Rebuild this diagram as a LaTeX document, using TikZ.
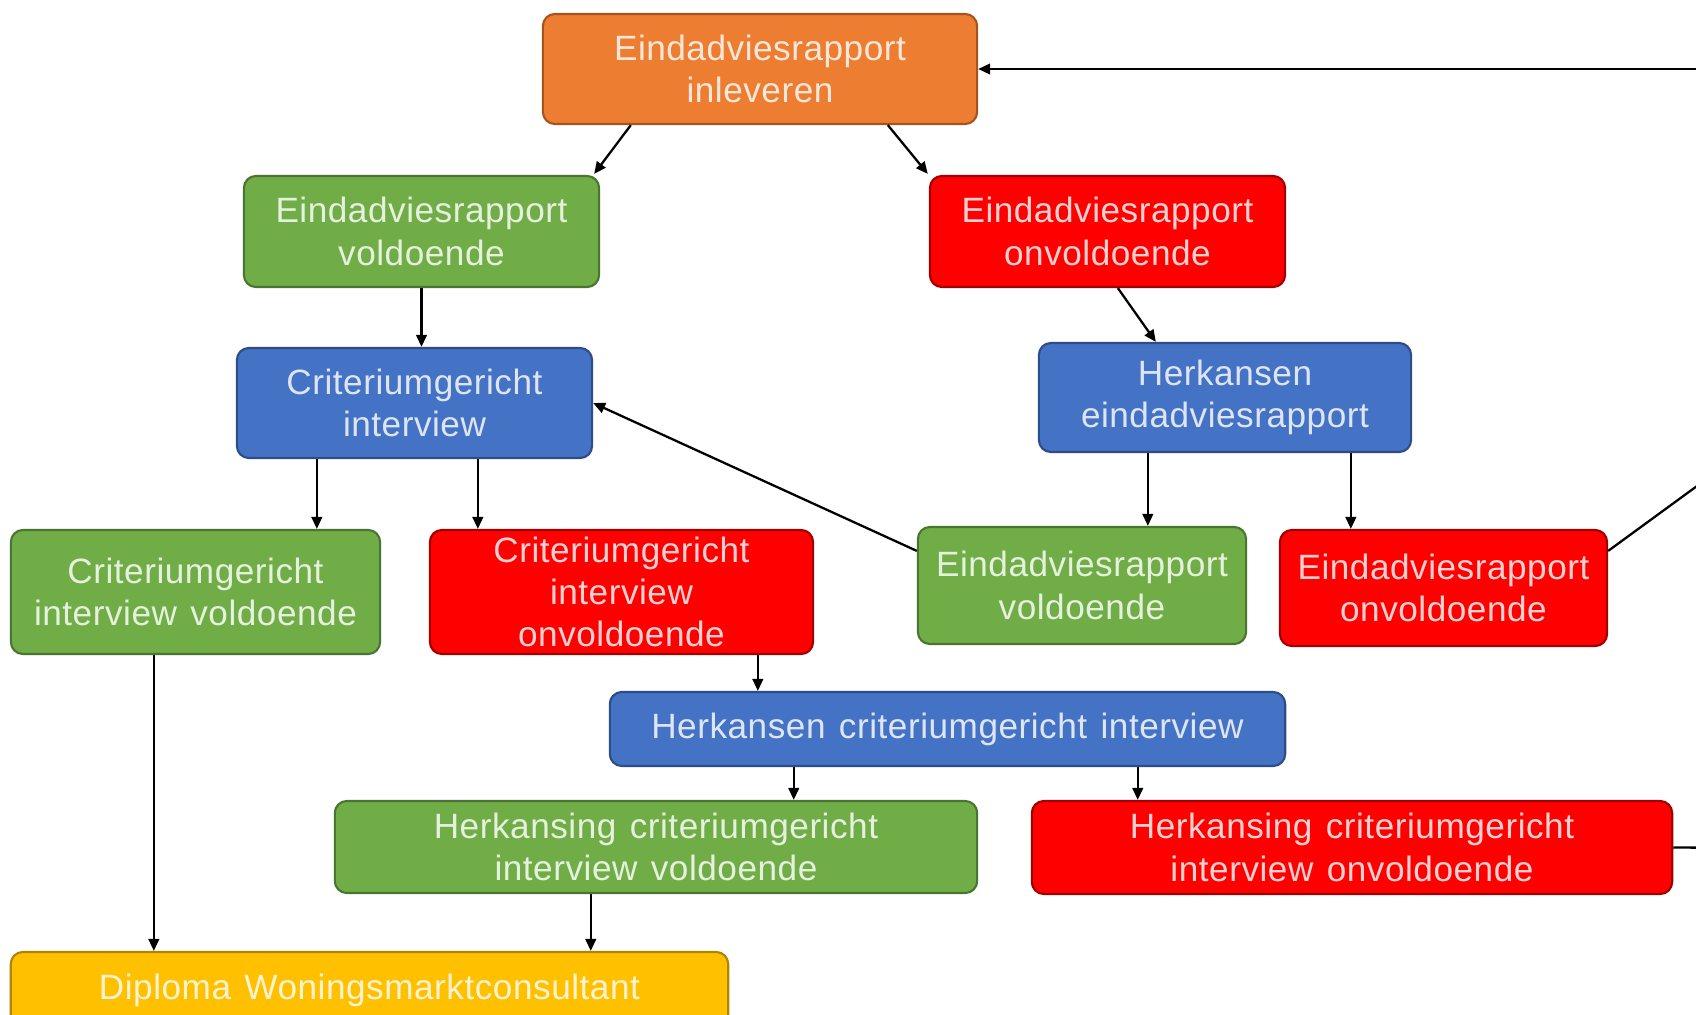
\documentclass[tikz,border=0pt]{standalone}
\usepackage{fontspec}
\setmainfont{Liberation Sans}[WordSpace=1.3,LetterSpace=1.5]
\usetikzlibrary{calc,arrows.meta}
\definecolor{cor}{HTML}{ED7D31}\definecolor{corb}{HTML}{A55420}
\definecolor{cgr}{HTML}{70AD47}\definecolor{cgrb}{HTML}{4A7530}
\definecolor{cre}{HTML}{FF0000}\definecolor{creb}{HTML}{A00000}
\definecolor{cbl}{HTML}{4472C4}\definecolor{cblb}{HTML}{2C4D87}
\definecolor{cye}{HTML}{FFC000}\definecolor{cyeb}{HTML}{B08300}
\tikzset{
  box/.style={rounded corners=12pt*0.2845, line width=0.6pt, inner sep=0pt, align=center,
    font=\fontsize{10}{12}\selectfont, text=white, text opacity=0.82},
  obox/.style={box, fill=cor, draw=corb},
  gbox/.style={box, fill=cgr, draw=cgrb},
  rbox/.style={box, fill=cre, draw=creb},
  bbox/.style={box, fill=cbl, draw=cblb},
  ybox/.style={box, fill=cye, draw=cyeb},
  arr/.style={line width=0.65pt, -{Triangle[length=3.4pt,width=3pt]}},
  ln/.style={line width=0.65pt},
}
\begin{document}
\begin{tikzpicture}[x=0.01cm,y=-0.01cm]
\useasboundingbox (0,0) rectangle (1696,1015);
\clip (0,0) rectangle (1696,1015);
\fill[white] (0,0) rectangle (1696,1015);
\node[obox, minimum width=4.34cm, minimum height=1.10cm] (o) at (760,69) {Eindadviesrapport\\inleveren};
\node[gbox, minimum width=3.55cm, minimum height=1.11cm] (g1) at (421.5,231.5) {Eindadviesrapport\\voldoende};
\node[rbox, minimum width=3.55cm, minimum height=1.11cm] (r1) at (1107.5,231.5) {Eindadviesrapport\\onvoldoende};
\node[bbox, minimum width=3.55cm, minimum height=1.10cm] (b1) at (414.5,403) {Criteriumgericht\\interview};
\node[bbox, minimum width=3.72cm, minimum height=1.09cm] (b2) at (1225,397.5) {Herkansen\\eindadviesrapport};
\node[gbox, minimum width=3.69cm, minimum height=1.24cm] (g2) at (195.5,592) {Criteriumgericht\\interview voldoende};
\node[rbox, minimum width=3.83cm, minimum height=1.24cm] (r2) at (621.5,592) {Criteriumgericht\\interview\\onvoldoende};
\node[gbox, minimum width=3.28cm, minimum height=1.17cm] (g3) at (1082,585.5) {Eindadviesrapport\\voldoende};
\node[rbox, minimum width=3.27cm, minimum height=1.16cm] (r3) at (1443.5,588) {Eindadviesrapport\\onvoldoende};
\node[bbox, minimum width=6.75cm, minimum height=0.74cm] (b3) at (947.5,729) {Herkansen criteriumgericht interview};
\node[gbox, minimum width=6.42cm, minimum height=0.92cm] (g4) at (656,847) {Herkansing criteriumgericht\\interview voldoende};
\node[rbox, minimum width=6.40cm, minimum height=0.93cm] (r4) at (1352,847.5) {Herkansing criteriumgericht\\interview onvoldoende};
\node[ybox, minimum width=7.17cm, minimum height=0.76cm] (y) at (369.5,990) {Diploma Woningsmarktconsultant};

% connectors
\draw[arr] ($(o.south west)+(89,0)$) -- ($(g1.north east)+(-6,-1)$);
\draw[arr] ($(o.south west)+(346,0)$) -- ($(r1.north west)+(-1,-1)$);
\coordinate (c3) at (g1.south);
\draw[arr] (c3) -- (c3 |- b1.north);
\draw[arr] ($(r1.south west)+(189,0)$) -- ($(b2.north west)+(118,0)$);
\coordinate (c5) at ($(b1.south west)+(81,0)$);
\draw[arr] (c5) -- (c5 |- g2.north);
\coordinate (c6) at ($(b1.south west)+(242,0)$);
\draw[arr] (c6) -- (c6 |- r2.north);
\draw[arr] ($(g3.north west)+(0,25)$) -- (b1.east);
\coordinate (c8) at ($(b2.south west)+(110,0)$);
\draw[arr] (c8) -- (c8 |- g3.north);
\coordinate (c9) at ($(b2.south west)+(313,0)$);
\draw[arr] (c9) -- (c9 |- r3.north);
\coordinate (c11) at ($(r2.south west)+(329,0)$);
\draw[arr] (c11) -- (c11 |- b3.north);
\coordinate (c12) at ($(b3.south west)+(185,0)$);
\draw[arr] (c12) -- (c12 |- g4.north);
\coordinate (c13) at ($(b3.south west)+(529,0)$);
\draw[arr] (c13) -- (c13 |- r4.north);
\coordinate (c15) at ($(g2.south west)+(144,0)$);
\draw[arr] (c15) -- (c15 |- y.north);
\coordinate (c16) at ($(g4.south west)+(257,0)$);
\draw[arr] (c16) -- (c16 |- y.north);
% return paths leaving the picture on the right
\coordinate (ret1) at (1760,440);
\coordinate (ret2) at (1760,69);
\coordinate (ret3) at (1760,848);
\draw[ln] ($(r3.north east)+(0,22)$) -- (ret1);
\draw[ln] (r4.east) -- (ret3) -- (ret1);
\draw[arr] (ret1) -- (ret2) -- (o.east);
\end{tikzpicture}
\end{document}
